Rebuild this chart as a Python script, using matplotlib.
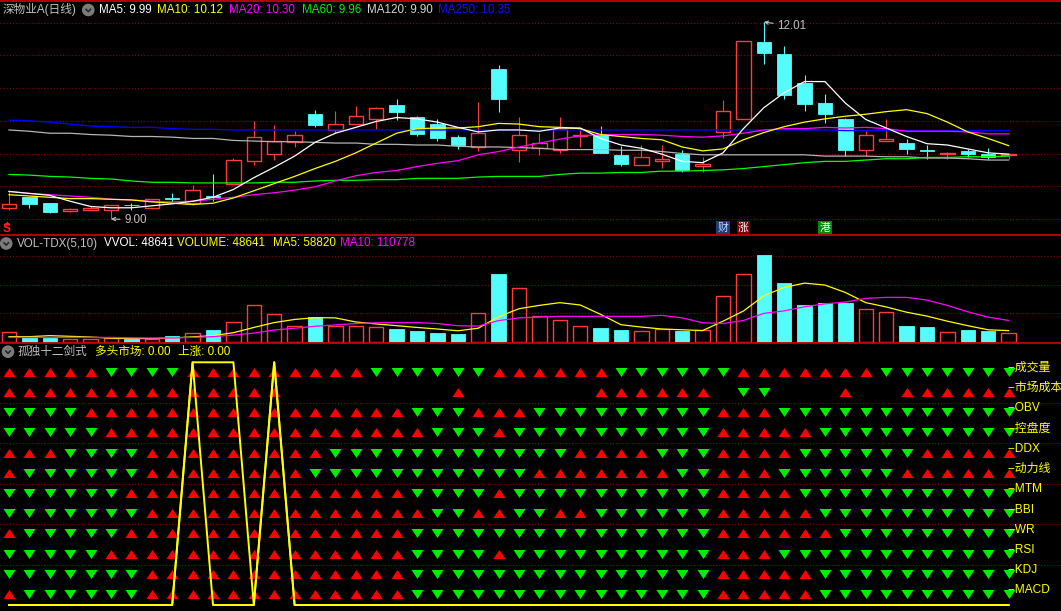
import numpy as np
import matplotlib
matplotlib.use("Agg")
import matplotlib.pyplot as plt
from matplotlib.patches import Circle

plt.rcParams['font.family'] = ['Liberation Sans', 'Noto Sans CJK SC', 'DejaVu Sans']

# ---------------- data ----------------
opens = [9.17, 9.34, 9.24, 9.12, 9.14, 9.14, 9.22, 9.17, 9.32, 9.24,
         9.35, 9.54, 9.89, 10.00, 10.18, 10.60, 10.36, 10.45, 10.53, 10.74,
         10.56, 10.45, 10.25, 10.10, 11.29, 10.06, 10.08, 10.06, 10.27, 10.28,
         9.98, 9.83, 9.89, 10.00, 9.81, 10.33, 10.53, 11.71, 11.52, 11.08,
         10.77, 10.52, 10.06, 10.19, 10.16, 10.05, 10.00, 10.04, 10.00, 9.97]
highs = [9.42, 9.34, 9.25, 9.16, 9.19, 9.21, 9.25, 9.30, 9.40, 9.52,
         9.69, 9.93, 10.50, 10.43, 10.34, 10.67, 10.65, 10.73, 10.71, 10.83,
         10.58, 10.53, 10.28, 10.79, 11.35, 10.56, 10.31, 10.56, 10.36, 10.42,
         10.12, 10.13, 10.13, 10.06, 9.94, 10.82, 11.72, 12.01, 11.64, 11.20,
         10.91, 10.55, 10.34, 10.52, 10.22, 10.13, 10.02, 10.07, 10.08, 10.01]
lows = [9.14, 9.17, 9.09, 9.11, 9.13, 9.00, 9.13, 9.15, 9.26, 9.22,
        9.28, 9.54, 9.82, 9.90, 10.10, 10.40, 10.31, 10.45, 10.38, 10.51,
        10.27, 10.19, 10.07, 10.04, 10.64, 9.87, 9.98, 10.01, 10.10, 10.01,
        9.81, 9.83, 9.78, 9.71, 9.71, 10.23, 10.53, 11.37, 10.83, 10.65,
        10.46, 9.96, 9.96, 10.19, 9.99, 9.91, 9.91, 9.95, 9.92, 9.92]
closes = [9.23, 9.23, 9.11, 9.15, 9.17, 9.21, 9.21, 9.30, 9.31, 9.44,
          9.34, 9.90, 10.25, 10.19, 10.28, 10.44, 10.45, 10.58, 10.69, 10.63,
          10.30, 10.23, 10.13, 10.31, 10.84, 10.28, 10.16, 10.38, 10.29, 10.01,
          9.84, 9.94, 9.92, 9.75, 9.84, 10.65, 11.72, 11.53, 10.90, 10.75,
          10.61, 10.06, 10.29, 10.22, 10.07, 10.04, 10.01, 9.99, 9.94, 9.99]

ma5 = [9.42, 9.39, 9.36, 9.27, 9.19, 9.17, 9.17, 9.20, 9.23, 9.27,
       9.33, 9.45, 9.63, 9.79, 9.96, 10.17, 10.31, 10.40, 10.49, 10.55,
       10.53, 10.48, 10.40, 10.33, 10.36, 10.36, 10.34, 10.39, 10.39, 10.23,
       10.13, 10.08, 9.99, 9.88, 9.86, 10.01, 10.38, 10.70, 10.93, 11.10,
       11.10, 10.77, 10.52, 10.39, 10.26, 10.15, 10.13, 10.07, 10.01, 9.99]
ma10 = [9.37, 9.35, 9.33, 9.31, 9.31, 9.30, 9.29, 9.26, 9.24, 9.22,
        9.24, 9.32, 9.43, 9.54, 9.65, 9.77, 9.88, 10.01, 10.16, 10.31,
        10.38, 10.39, 10.39, 10.41, 10.46, 10.45, 10.41, 10.40, 10.38, 10.29,
        10.26, 10.23, 10.21, 10.10, 10.04, 10.07, 10.21, 10.32, 10.41, 10.48,
        10.53, 10.57, 10.60, 10.64, 10.67, 10.61, 10.48, 10.33, 10.23, 10.12]
ma20 = [9.42, 9.39, 9.37, 9.35, 9.33, 9.30, 9.29, 9.27, 9.26, 9.27,
        9.30, 9.33, 9.37, 9.40, 9.44, 9.49, 9.58, 9.66, 9.71, 9.74,
        9.80, 9.85, 9.89, 9.98, 10.03, 10.10, 10.16, 10.22, 10.27, 10.29,
        10.29, 10.29, 10.28, 10.26, 10.25, 10.27, 10.31, 10.36, 10.38, 10.38,
        10.40, 10.39, 10.40, 10.38, 10.34, 10.34, 10.34, 10.33, 10.30, 10.30]
ma60 = [9.68, 9.67, 9.65, 9.64, 9.62, 9.61, 9.58, 9.56, 9.56, 9.55,
        9.55, 9.55, 9.55, 9.56, 9.56, 9.58, 9.59, 9.59, 9.60, 9.60,
        9.62, 9.62, 9.62, 9.64, 9.65, 9.65, 9.65, 9.68, 9.70, 9.70,
        9.71, 9.71, 9.73, 9.73, 9.74, 9.75, 9.77, 9.80, 9.83, 9.86,
        9.88, 9.88, 9.90, 9.92, 9.92, 9.94, 9.94, 9.95, 9.95, 9.96]
ma120 = [10.36, 10.34, 10.31, 10.31, 10.29, 10.28, 10.26, 10.26, 10.25, 10.23,
         10.23, 10.20, 10.19, 10.18, 10.18, 10.17, 10.16, 10.16, 10.14, 10.14,
         10.13, 10.13, 10.11, 10.10, 10.10, 10.09, 10.08, 10.06, 10.06, 10.06,
         10.05, 10.05, 10.03, 10.00, 9.98, 9.98, 9.98, 9.98, 9.98, 9.98,
         9.96, 9.96, 9.96, 9.95, 9.95, 9.93, 9.93, 9.92, 9.90, 9.90]
ma250 = [10.51, 10.50, 10.48, 10.45, 10.42, 10.41, 10.40, 10.40, 10.38, 10.37,
         10.37, 10.36, 10.36, 10.36, 10.36, 10.36, 10.36, 10.36, 10.36, 10.36,
         10.36, 10.36, 10.36, 10.36, 10.36, 10.36, 10.36, 10.36, 10.36, 10.36,
         10.36, 10.36, 10.36, 10.36, 10.36, 10.36, 10.36, 10.36, 10.36, 10.36,
         10.36, 10.35, 10.35, 10.35, 10.35, 10.35, 10.35, 10.35, 10.35, 10.35]

# volume in thousands of lots
vol_k = [53.6, 20.9, 20.9, 17.4, 17.4, 20.9, 17.0, 17.0, 29.5, 48.6,
         60.5, 105.4, 188.0, 141.6, 84.7, 127.6, 84.7, 84.7, 79.5, 65.7,
         58.8, 45.0, 39.8, 147.0, 350.0, 276.0, 131.2, 110.6, 84.7, 70.8,
         60.5, 58.8, 69.2, 55.3, 62.0, 234.7, 348.6, 443.4, 303.6, 190.0,
         200.0, 200.0, 167.5, 152.0, 81.0, 76.0, 53.6, 60.5, 55.3, 48.641]
vol_ma5_k = [27.8, 27.8, 33.0, 29.5, 26.0, 20.0, 18.0, 17.9, 21.0, 27.0,
             33.0, 48.0, 75.0, 100.0, 116.0, 125.0, 124.0, 103.0, 93.0, 84.0,
             75.0, 67.0, 58.0, 71.0, 130.0, 171.0, 188.0, 202.0, 190.0, 142.0,
             89.0, 77.0, 67.0, 63.0, 59.0, 107.0, 159.0, 237.0, 280.0, 302.0,
             292.0, 254.0, 202.0, 180.0, 153.0, 133.0, 107.0, 84.0, 63.0, 58.82]
vol_ma10_k = [24.0, 24.0, 24.0, 24.0, 24.0, 24.0, 22.0, 21.0, 21.0, 24.0,
              28.0, 36.0, 46.0, 62.0, 71.0, 81.0, 88.0, 95.0, 99.0, 100.0,
              100.0, 95.0, 84.0, 82.0, 110.0, 124.0, 128.0, 132.0, 132.0, 132.0,
              132.0, 132.0, 137.0, 124.0, 99.0, 95.0, 111.0, 147.0, 160.0, 181.0,
              196.0, 205.0, 224.0, 229.0, 229.0, 215.0, 188.0, 155.0, 128.0, 110.778]

# 孤独十二剑式: U = red up, D = green down, . = nothing
signal_names = ['成交量', '市场成本', 'OBV', '控盘度', 'DDX', '动力线',
                'MTM', 'BBI', 'WR', 'RSI', 'KDJ', 'MACD']
signal_rows = [
    'UUUUUDDDDUUUUUUUUUDDDDDDUUUUUUDDDDDDUUUUUUUDDDDDDD',
    'UUUUUUUUUUUUUU........U......UUUUUU.DD...U..UUUUUU',
    'DDDDUUUUUUUUUUUUUUUUDDDUUUDDDDDDDDDUUUDDDDDDDDDDDD',
    'DDDDDUUUUUUUUUUUUUUUUDDDUDDDDDDDDDDUUUUUDDDDDDDDDD',
    'UUUDDDDUUUUUUUUUDDDDDDDDDDDDUUUUDDDUUUUDDDDDDUUUUU',
    'UDDDDDDUUUUUUUUDDDDDDDDDDDUUUUUUUDDUUUDDDDDDUUUUUU',
    'DDDDDDUUUUUUUUUUUUUUDDDDUDDDDDDDDDDUUUUDDDDDDDDDDD',
    'DDDDDDDUUUUUUUUUUUUUUDDUUDDUUDDDDDDUUUUUDDDDDDDDDD',
    'UDDDDDUUUUUUUUUUUUUUDDDDDDDDDDDDDDDUUUUUUDDDDDDDDD',
    'DDDDDUUUUUUUUUUUUUUUDDDDUDDDDDDDDDDUUUDDDDDDDDDDDD',
    'DDDDDDDUUUUUUUUUUUUUDDDDDDDDDDDDDDDUUUUUDDDDDDDDDD',
    'UDDDDDDUUUUUUUUUUUUUDDDDDDDDDDDDDDDUUUUUDDDDDDDDDD',
]
bull_market = [0] * 9 + [1, 1, 1, 0, 1] + [0] * 36   # 多头市场
rising = [0] * 9 + [1, 0, 0, 0, 1] + [0] * 36        # 上涨

event_cols = [35, 36, 40]
event_labels = ['财', '涨', '港']
event_face = ['#1c3f78', '#7a0000', '#008c00']
event_text = ['#c8d4ff', '#ffffff', '#ffffff']

# ---------------- layout (screen pixels) ----------------
W, H = 1061, 611
X0, DX = 9.0, 20.4          # pixel x of column 0 and spacing


def price_at(ypix):
    return 12.0 - (ypix - 22.7) / 65.4


def vol_at(ypix):
    return (342.1 - ypix) * 5.12


def row_at(ypix):
    return (ypix - 371.7) / 20.21


def sig_at(ypix):
    return (605.0 - ypix) / 242.7


RED = '#ff3c3c'
CYAN = '#54fcfc'
GRID = '#8c0000'
GREY = '#c0c0c0'
YEL = '#ffff00'
MAG = '#ff00ff'

fig = plt.figure(figsize=(W / 100, H / 100), dpi=100, facecolor='black')


def panel(top, bottom):
    ax = fig.add_axes([0, 1 - bottom / H, 1, (bottom - top) / H])
    ax.set_xlim(-X0 / DX, (W - X0) / DX)
    ax.axis('off')
    return ax


n = len(closes)
idx = np.arange(n)
o, hi, lo, c = map(np.array, (opens, highs, lows, closes))
up = c >= o
b_lo = np.minimum(o, c)
b_hi = np.maximum(o, c)
bw = 14.5 / DX

# ---- price panel ----
ax = panel(0, 235)
ax.set_ylim(price_at(235), price_at(0))
for p in np.arange(9.0, 12.01, 0.5):
    ax.axhline(p, color=GRID, lw=0.75, ls=(0, (1, 2)), zorder=0)
ax.vlines(idx[up], b_hi[up], hi[up], color=RED, lw=0.8)
ax.vlines(idx[up], lo[up], b_lo[up], color=RED, lw=0.8)
ax.vlines(idx[~up], lo[~up], hi[~up], color=CYAN, lw=0.8)
ax.bar(idx[up], (b_hi - b_lo)[up], bottom=b_lo[up], width=bw,
       facecolor='none', edgecolor=RED, lw=1.0)
ax.bar(idx[~up], (b_hi - b_lo)[~up], bottom=b_lo[~up], width=bw,
       facecolor=CYAN, edgecolor=CYAN, lw=0.6)
for vals, col in [(ma250, '#0000ff'), (ma120, '#b4b4b4'), (ma60, '#00ff00'),
                  (ma20, MAG), (ma10, YEL), (ma5, '#ffffff')]:
    ax.plot(idx, vals, color=col, lw=0.9)

i_lo = int(np.argmin(lo))
ax.annotate(f'{lo[i_lo]:.2f}', xy=(i_lo, lo[i_lo]), xytext=(9.5, -0.8),
            textcoords='offset points', color=GREY, fontsize=8.4,
            va='center', ha='left',
            arrowprops=dict(arrowstyle='->', color=GREY, lw=0.8,
                            shrinkA=1, shrinkB=0, mutation_scale=6))
i_hi = int(np.argmax(hi))
ax.annotate(f'{hi[i_hi]:.2f}', xy=(i_hi, hi[i_hi]), xytext=(9.7, -2.7),
            textcoords='offset points', color=GREY, fontsize=8.4,
            va='center', ha='left',
            arrowprops=dict(arrowstyle='->', color=GREY, lw=0.8,
                            shrinkA=1, shrinkB=0, mutation_scale=6))
for col_i, lab, fc, tc in zip(event_cols, event_labels, event_face, event_text):
    ax.text(col_i, price_at(227.5), lab, color=tc, fontsize=7.8,
            ha='center', va='center',
            bbox=dict(boxstyle='square,pad=0.12', fc=fc, ec='none'))

# ---- volume panel ----
vax = panel(235, 343)
vax.set_ylim(vol_at(343), vol_at(235))
for g in (147, 293, 440):
    vax.axhline(g, color=GRID, lw=0.75, ls=(0, (1, 2)), zorder=0)
v = np.array(vol_k)
vax.bar(idx[up], v[up], width=bw, facecolor='none', edgecolor=RED, lw=1.0)
vax.bar(idx[~up], v[~up], width=bw, facecolor=CYAN, edgecolor=CYAN, lw=0.6)
vax.plot(idx, vol_ma5_k, color=YEL, lw=0.9)
vax.plot(idx, vol_ma10_k, color=MAG, lw=0.9)

# ---- signal panel ----
iax = panel(343, 611)
iax.set_ylim(row_at(611), row_at(343))
for g in (1.55, 3.55, 5.55, 7.55, 9.55):
    iax.axhline(g, color=GRID, lw=0.75, ls=(0, (1, 2)), zorder=0)
UP_TRI = [(-1, -0.75), (1, -0.75), (0, 0.75)]
DN_TRI = [(-1, 0.75), (1, 0.75), (0, -0.75)]
ms = (12 * 0.72) ** 2
label_x = (1007 - X0) / DX
for r, (name, row) in enumerate(zip(signal_names, signal_rows)):
    u = [i for i, ch in enumerate(row) if ch == 'U']
    d = [i for i, ch in enumerate(row) if ch == 'D']
    iax.scatter(u, [r] * len(u), marker=UP_TRI, s=ms, color='#ff0000',
                linewidths=0, zorder=2)
    iax.scatter(d, [r] * len(d), marker=DN_TRI, s=ms, color='#00ee00',
                linewidths=0, zorder=2)
    iax.text(label_x, r - 0.18, '--' + name, color=YEL, fontsize=8.6,
             ha='left', va='center', zorder=3)

lax = iax.twinx()
lax.axis('off')
lax.set_ylim(sig_at(611), sig_at(343))
lax.plot(idx, bull_market, color=YEL, lw=1.4)
lax.plot(idx, rising, color=YEL, lw=1.4)

# ---- overlay: borders, titles, icons ----
ov = fig.add_axes([0, 0, 1, 1])
ov.set_xlim(0, W)
ov.set_ylim(H, 0)
ov.axis('off')
for yb in (0.8, 235, 343):
    ov.axhline(yb, color='#c00000', lw=1.3)


def icon(x, y):
    ov.add_patch(Circle((x, y), 5.6, color='#7c7c7c'))
    ov.plot([x - 2.8, x, x + 2.8], [y - 1.2, y + 1.6, y - 1.2],
            color='#262626', lw=1.2, solid_capstyle='butt')


FS = 8.4
ov.text(2.5, 10, '深物业A(日线)', color=GREY, fontsize=FS, va='center')
icon(88.3, 10)
head = [(99.3, f'MA5: {ma5[-1]:.2f}', '#ffffff'),
        (157.3, f'MA10: {ma10[-1]:.2f}', YEL),
        (229.3, f'MA20: {ma20[-1]:.2f}', MAG),
        (301.7, f'MA60: {ma60[-1]:.2f}', '#00ee00'),
        (366.7, f'MA120: {ma120[-1]:.2f}', '#d4d4d4'),
        (438.3, f'MA250: {ma250[-1]:.2f}', '#1010ff')]
for x, s, col in head:
    ov.text(x, 10, s, color=col, fontsize=FS, va='center')

icon(6.2, 243.5)
vhead = [(17.3, 'VOL-TDX(5,10)', GREY),
         (104.3, f'VVOL: {vol_k[-1] * 1000:.0f}', '#ffffff'),
         (176.7, f'VOLUME: {vol_k[-1] * 1000:.0f}', YEL),
         (272.7, f'MA5: {vol_ma5_k[-1] * 1000:.0f}', YEL),
         (340.0, f'MA10: {vol_ma10_k[-1] * 1000:.0f}', MAG)]
for x, s, col in vhead:
    ov.text(x, 243.5, s, color=col, fontsize=FS, va='center')

icon(8.0, 351.7)
ihead = [(17.3, '孤独十二剑式', GREY),
         (95.0, f'多头市场: {bull_market[-1]:.2f}', YEL),
         (178.3, f'上涨: {rising[-1]:.2f}', YEL)]
for x, s, col in ihead:
    ov.text(x, 351.7, s, color=col, fontsize=FS, va='center')

# buy mark at the first bar
ov.text(6.7, 229.5, 'S', color='#ff2020', fontsize=8.5, fontweight='bold',
        ha='center', va='center')
ov.scatter([6.7], [222.5], marker=UP_TRI, s=16, color='#ff2020', linewidths=0)

fig.savefig('out.png', dpi=100, facecolor='black')
